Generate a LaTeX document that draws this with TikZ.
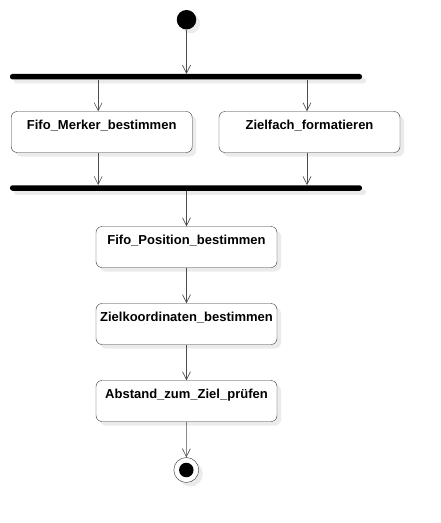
\documentclass[tikz,border=0pt]{standalone}
\usepackage{fontspec}
\setmainfont{Liberation Sans}
\usetikzlibrary{arrows.meta,shadows}
\tikzset{
    shade/.style={drop shadow={shadow xshift=4pt,shadow yshift=-4pt,fill=black!8,opacity=1}},
    action/.style={draw=black!80,fill=white,rounded corners=6pt,minimum width=181pt,inner sep=0pt,
        text height=17.6pt,text depth=23.4pt,font=\fontsize{13}{15}\selectfont\bfseries,shade},
    bar/.style={fill=black,rounded corners=2.5pt,minimum width=352pt,minimum height=5.5pt,inner sep=0pt,shade},
    flow/.style={draw=black!70,semithick,-{Straight Barb[length=8pt,width=8pt]}}
}
\begin{document}
\begin{tikzpicture}[x=1pt,y=-1pt]
                \useasboundingbox (0,0) rectangle (440,523);
                %% start and forks
                \node[circle,fill=black,minimum size=19.5pt,inner sep=0pt,shade] (start) at (186.5,19.7) {};
                \node[bar] (fork) at (186,76.7) {};
                \node[bar] (join) at (186,188) {};
                %% actions
                \node[action] (merker) at (101.7,132) {Fifo\_Merker\_bestimmen};
                \node[action] (zielfach) at (309.5,132) {Zielfach\_formatieren};
                \node[action] (position) at (186.5,247) {Fifo\_Position\_bestimmen};
                \node[action] (koord) at (186.5,324) {Zielkoordinaten\_bestimmen};
                \node[action] (abstand) at (186.5,401) {Abstand\_zum\_Ziel\_prüfen};
                %% end
                \node[circle,draw=black!80,fill=white,minimum size=25pt,inner sep=0pt,shade] (stop) at (186.3,470) {};
                \node[circle,fill=black,minimum size=14.5pt,inner sep=0pt] (stopdot) at (stop.center) {};
                %% transitions
                \draw[flow] (start) -- (start |- fork.north);
                \draw[flow] ([xshift=-3.5pt]merker.north |- fork.south) -- ([xshift=-3.5pt]merker.north);
                \draw[flow] ([xshift=-2.5pt]zielfach.north |- fork.south) -- ([xshift=-2.5pt]zielfach.north);
                \draw[flow] ([xshift=-3.5pt]merker.south) -- ([xshift=-3.5pt]merker.south |- join.north);
                \draw[flow] ([xshift=-2.5pt]zielfach.south) -- ([xshift=-2.5pt]zielfach.south |- join.north);
                \draw[flow] (position.north |- join.south) -- (position.north);
                \draw[flow] (position) -- (koord);
                \draw[flow] (koord) -- (abstand);
                \draw[flow] (abstand) -- (stop);
            \end{tikzpicture}
\end{document}
